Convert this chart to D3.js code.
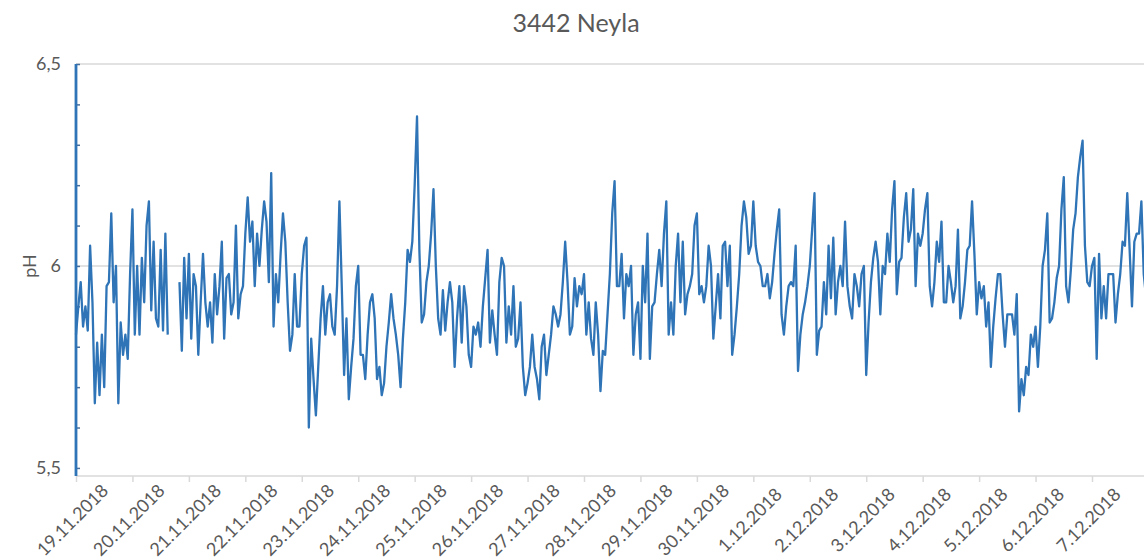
<!DOCTYPE html>
<html>
<head>
<meta charset="utf-8">
<script src="https://cdn.jsdelivr.net/npm/d3@7"></script>
<style>
  body { margin: 0; background: #fff; }
  svg { display: block; }
  text { font-family: Lato, 'Liberation Sans', sans-serif; fill: #595959; }
</style>
</head>
<body>
<svg id="chart" width="1144" height="560"></svg>
<script>
// chart texts
const chartTitle = '3442 Neyla';
const yTitle = 'pH';

// category axis: one tick per day
const startDate = new Date(Date.UTC(2018, 10, 19));
const dayLabels = [
  '19.11.2018', '20.11.2018', '21.11.2018', '22.11.2018', '23.11.2018',
  '24.11.2018', '25.11.2018', '26.11.2018', '27.11.2018', '28.11.2018',
  '29.11.2018', '30.11.2018', '1.12.2018', '2.12.2018', '3.12.2018',
  '4.12.2018', '5.12.2018', '6.12.2018', '7.12.2018'
];

// value axis
const yTicks = [5.5, 6, 6.5];
const yMinor = [5.6, 5.7, 5.8, 5.9, 6.1, 6.2, 6.3, 6.4];

// hourly pH readings, one row per day (null = no reading)
const phHourly = [
  5.83, 5.90, 5.96, 5.85, 5.90, 5.84, 6.05, 5.91, 5.66, 5.81, 5.68, 5.83, 5.70, 5.95, 5.96, 6.13, 5.91, 6.00, 5.66, 5.86, 5.78, 5.83, 5.77, 5.98,
  6.14, 5.83, 6.00, 5.83, 6.02, 5.91, 6.10, 6.16, 5.89, 6.06, 5.87, 5.85, 6.04, 5.84, 6.08, 5.83, null, null, null, null, 5.96, 5.79, 6.02, 5.87,
  6.03, 5.82, 5.98, 5.95, 5.78, 5.91, 6.03, 5.91, 5.85, 5.91, 5.81, 5.98, 5.88, 5.95, 6.06, 5.82, 5.97, 5.98, 5.88, 5.91, 6.10, 5.87, 5.93, 5.95,
  6.08, 6.17, 6.06, 6.11, 5.95, 6.08, 6.00, 6.09, 6.16, 6.11, 5.96, 6.23, 5.85, 5.98, 5.91, 6.03, 6.13, 6.06, 5.91, 5.79, 5.83, 5.98, 5.85, 5.85,
  5.98, 6.05, 6.07, 5.60, 5.82, 5.72, 5.63, 5.75, 5.87, 5.95, 5.83, 5.91, 5.93, 5.85, 5.83, 5.95, 6.16, 5.95, 5.73, 5.87, 5.67, 5.75, 5.82, 5.95,
  6.00, 5.78, 5.78, 5.72, 5.83, 5.91, 5.93, 5.87, 5.72, 5.75, 5.68, 5.71, 5.80, 5.86, 5.93, 5.87, 5.83, 5.78, 5.70, 5.82, 5.91, 6.04, 6.01, 6.06,
  6.20, 6.37, 6.04, 5.86, 5.88, 5.96, 6.00, 6.08, 6.19, 6.00, 5.87, 5.83, 5.94, 5.84, 5.91, 5.96, 5.91, 5.75, 5.87, 5.95, 5.81, 5.95, 5.90, 5.78,
  5.75, 5.85, 5.83, 5.86, 5.80, 5.90, 5.97, 6.04, 5.81, 5.89, 5.83, 5.78, 5.96, 6.02, 6.00, 5.81, 5.90, 5.83, 5.95, 5.80, 5.82, 5.91, 5.75, 5.68,
  5.71, 5.75, 5.83, 5.75, 5.72, 5.67, 5.80, 5.83, 5.73, 5.78, 5.83, 5.90, 5.88, 5.85, 5.88, 5.96, 6.06, 5.96, 5.83, 5.85, 5.97, 5.90, 5.95, 5.93,
  5.98, 5.83, 5.91, 5.82, 5.78, 5.91, 5.83, 5.69, 5.79, 5.78, 5.88, 5.98, 6.13, 6.21, 5.95, 5.95, 6.03, 5.87, 5.98, 5.95, 6.00, 5.78, 5.88, 5.91,
  5.77, 6.00, 5.91, 6.08, 5.77, 5.90, 5.91, 5.98, 6.04, 5.95, 6.08, 6.16, 5.83, 5.91, 5.83, 6.00, 6.08, 5.91, 6.06, 5.88, 5.93, 5.95, 5.98, 6.10,
  6.13, 5.93, 5.95, 5.91, 5.95, 6.05, 6.00, 5.82, 5.90, 5.98, 5.87, 6.05, 6.06, 5.95, 6.05, 5.78, 5.83, 5.90, 5.98, 6.10, 6.16, 6.12, 6.03, 6.05,
  6.16, 6.05, 6.01, 6.00, 5.95, 5.95, 5.98, 5.92, 5.96, 6.03, 6.09, 6.14, 5.88, 5.83, 5.90, 5.95, 5.96, 5.95, 6.05, 5.74, 5.83, 5.88, 5.91, 5.95,
  6.00, 6.09, 6.18, 5.78, 5.84, 5.85, 5.96, 5.88, 6.05, 5.92, 6.07, 5.88, 5.96, 6.00, 5.95, 6.11, 5.95, 5.90, 5.87, 5.98, 5.95, 5.90, 5.98, 6.00,
  5.73, 5.86, 5.96, 6.02, 6.06, 6.01, 5.88, 6.00, 5.98, 6.08, 6.01, 6.14, 6.21, 5.93, 6.01, 6.02, 6.12, 6.18, 6.06, 6.09, 6.19, 5.95, 6.08, 6.05,
  6.08, 6.14, 6.18, 5.95, 5.90, 5.96, 6.06, 6.01, 6.11, 5.91, 5.91, 6.00, 5.96, 5.91, 5.95, 6.09, 5.87, 5.90, 5.96, 6.04, 6.05, 6.16, 6.03, 5.88,
  5.96, 5.92, 5.95, 5.85, 5.91, 5.75, 5.85, 5.92, 5.98, 5.98, 5.88, 5.80, 5.88, 5.88, 5.88, 5.83, 5.93, 5.64, 5.72, 5.68, 5.75, 5.73, 5.83, 5.80,
  5.85, 5.75, 5.85, 6.00, 6.04, 6.13, 5.86, 5.87, 5.91, 5.97, 6.00, 6.14, 6.22, 5.95, 5.91, 5.99, 6.09, 6.13, 6.22, 6.27, 6.31, 6.05, 5.96, 5.95,
  6.00, 6.02, 5.77, 6.03, 5.87, 5.95, 5.87, 5.98, 5.98, 5.98, 5.86, 5.93, 5.98, 6.06, 6.05, 6.18, 6.04, 5.90, 6.06, 6.08, 6.08, 6.16, 5.98, 5.92
];

const width = 1144;
const height = 560;
const plot = { left: 76, top: 64, bottom: 476, right: width };
const lineColor = '#2e74b6';

const HOUR = 3600 * 1000;
const DAY = 24 * HOUR;
const dayDates = dayLabels.map((_, i) => new Date(startDate.getTime() + i * DAY));
const points = phHourly.map((v, i) => ({ t: new Date(startDate.getTime() + i * HOUR), v }));

const svg = d3.select('#chart');

const x = d3.scaleUtc()
  .domain([dayDates[0], dayDates[dayDates.length - 1]])
  .range([76, 1092]);

const y = d3.scaleLinear()
  .domain([5.48, 6.5])
  .range([plot.bottom, plot.top]);

// horizontal gridlines
svg.append('g')
  .selectAll('line')
  .data([6, 6.5])
  .join('line')
  .attr('x1', plot.left)
  .attr('x2', plot.right)
  .attr('y1', d => y(d))
  .attr('y2', d => y(d))
  .attr('stroke', '#d9d9d9')
  .attr('stroke-width', 1.5);

// category axis
const xAxis = svg.append('g')
  .attr('transform', `translate(0,${plot.bottom})`)
  .call(d3.axisBottom(x)
    .tickValues(dayDates)
    .tickSize(6)
    .tickFormat((d, i) => dayLabels[i]));
xAxis.select('.domain')
  .attr('d', `M${plot.left},0H${plot.right}`)
  .attr('stroke', '#d9d9d9')
  .attr('stroke-width', 1.5);
xAxis.selectAll('.tick line').attr('stroke', '#d9d9d9').attr('stroke-width', 1.5);
xAxis.selectAll('.tick text')
  .attr('font-size', 18)
  .attr('fill', '#595959')
  .attr('text-anchor', 'middle')
  .attr('y', 0)
  .attr('dy', '0.35em')
  .attr('transform', 'translate(-4,44) rotate(-45)');

// value axis labels
const yAxis = svg.append('g')
  .attr('transform', `translate(${plot.left},0)`)
  .call(d3.axisLeft(y)
    .tickValues(yTicks)
    .tickSize(0)
    .tickPadding(15)
    .tickFormat(d => String(d).replace('.', ',')));
yAxis.select('.domain').remove();
yAxis.selectAll('.tick text').attr('font-size', 18).attr('fill', '#595959');

// minor ticks on the value axis
const yMinorAxis = svg.append('g')
  .attr('transform', `translate(${plot.left},0)`)
  .call(d3.axisRight(y).tickValues(yMinor.concat(yTicks)).tickSize(4).tickFormat(''));
yMinorAxis.select('.domain').remove();
yMinorAxis.selectAll('.tick line').attr('stroke', '#4a6f9a').attr('stroke-width', 1.5);

// axis line drawn in series blue, as in the source
svg.append('line')
  .attr('x1', plot.left)
  .attr('x2', plot.left)
  .attr('y1', y(6.5))
  .attr('y2', plot.bottom)
  .attr('stroke', lineColor)
  .attr('stroke-width', 2.8);

// pH series
const line = d3.line()
  .defined(d => d.v != null)
  .x(d => x(d.t))
  .y(d => y(d.v));

svg.append('path')
  .datum(points)
  .attr('d', line)
  .attr('fill', 'none')
  .attr('stroke', lineColor)
  .attr('stroke-width', 2.3)
  .attr('stroke-linejoin', 'round');

// titles
svg.append('text')
  .attr('x', 576)
  .attr('y', 32)
  .attr('text-anchor', 'middle')
  .attr('font-size', 25)
  .text(chartTitle);

svg.append('text')
  .attr('transform', `translate(36,${y(6)}) rotate(-90)`)
  .attr('text-anchor', 'middle')
  .attr('font-size', 18)
  .text(yTitle);
</script>
</body>
</html>
